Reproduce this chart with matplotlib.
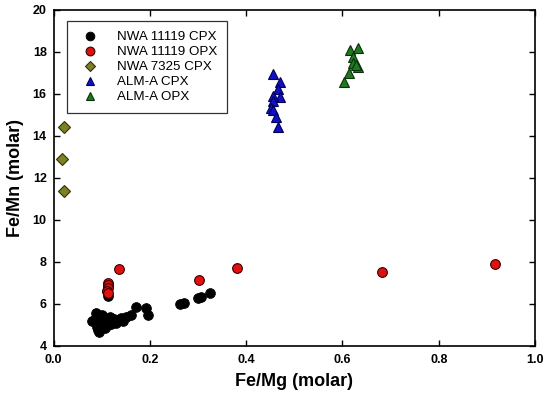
import matplotlib
matplotlib.use("Agg")
import matplotlib.pyplot as plt

plt.rcParams["font.family"] = ["Liberation Sans", "DejaVu Sans"]

# NWA 11119 CPX (black circles)
cpx_11119_x = [0.085, 0.09, 0.09, 0.092, 0.095, 0.095, 0.098, 0.10, 0.10, 0.102,
               0.105, 0.11, 0.112, 0.115, 0.118, 0.12, 0.125, 0.13, 0.135, 0.14,
               0.145, 0.15, 0.16, 0.08, 0.088, 0.093, 0.107, 0.112, 0.11, 0.113,
               0.172, 0.192, 0.197, 0.263, 0.27, 0.30, 0.307, 0.325]
cpx_11119_y = [5.3, 5.1, 4.9, 4.75, 4.65, 5.0, 5.3, 5.45, 5.2, 4.95,
               5.1, 5.35, 5.0, 5.2, 5.4, 5.05, 5.3, 5.1, 5.25, 5.35,
               5.2, 5.4, 5.45, 5.2, 5.55, 5.35, 4.85, 6.4, 6.6, 6.85,
               5.87, 5.82, 5.48, 6.0, 6.06, 6.27, 6.35, 6.5]

# NWA 11119 OPX (red circles)
opx_11119_x = [0.136, 0.113, 0.112, 0.114, 0.111, 0.113, 0.302, 0.38, 0.683, 0.917]
opx_11119_y = [7.65, 7.0, 6.9, 6.75, 6.6, 6.5, 7.14, 7.73, 7.51, 7.89]

# NWA 7325 CPX (olive diamonds)
cpx_7325_x = [0.021, 0.017, 0.021]
cpx_7325_y = [14.43, 12.9, 11.38]

# ALM-A CPX (blue triangles)
alm_cpx_x = [0.455, 0.47, 0.466, 0.47, 0.455, 0.455, 0.451, 0.456, 0.463, 0.466]
alm_cpx_y = [16.95, 16.59, 16.22, 15.87, 15.9, 15.68, 15.32, 15.24, 14.92, 14.44]

# ALM-A OPX (green triangles)
alm_opx_x = [0.616, 0.633, 0.622, 0.622, 0.633, 0.628, 0.614, 0.604]
alm_opx_y = [18.1, 18.18, 17.78, 17.49, 17.3, 17.38, 16.99, 16.59]

fig = plt.figure(figsize=(5.47, 3.99), dpi=100, facecolor="white")
ax = fig.add_axes([0.098, 0.133, 0.88, 0.842])

ms = 7
ax.plot(cpx_11119_x, cpx_11119_y, "o", color="black", mec="black", ms=ms,
        mew=0.6, label="NWA 11119 CPX")
ax.plot(opx_11119_x, opx_11119_y, "o", color="#e01010", mec="#3a0000", ms=ms,
        mew=0.8, label="NWA 11119 OPX")
ax.plot(cpx_7325_x, cpx_7325_y, "D", color="#808020", mec="#303010", ms=6,
        mew=0.8, label="NWA 7325 CPX")
ax.plot(alm_cpx_x, alm_cpx_y, "^", color="#1010c8", mec="#000050", ms=ms,
        mew=0.8, label="ALM-A CPX")
ax.plot(alm_opx_x, alm_opx_y, "^", color="#1f7a1f", mec="#0a300a", ms=ms,
        mew=0.8, label="ALM-A OPX")

ax.set_xlim(0, 1.0)
ax.set_ylim(4, 20)
ax.set_xticks([0.0, 0.2, 0.4, 0.6, 0.8, 1.0])
ax.set_yticks([4, 6, 8, 10, 12, 14, 16, 18, 20])

ax.set_xlabel("Fe/Mg (molar)", fontsize=13, fontweight="bold", labelpad=5)
ax.set_ylabel("Fe/Mn (molar)", fontsize=13, fontweight="bold", labelpad=6)

ax.tick_params(axis="both", direction="in", length=4, width=1,
               top=True, right=True, labelsize=9)
ax.tick_params(axis="x", pad=6)
ax.tick_params(axis="y", pad=5)
for lab in ax.get_xticklabels() + ax.get_yticklabels():
    lab.set_fontweight("bold")
for sp in ax.spines.values():
    sp.set_linewidth(1.2)

leg = ax.legend(loc="upper left", bbox_to_anchor=(0.028, 0.967), fontsize=9.6,
                frameon=True, fancybox=False, edgecolor="black",
                labelspacing=0.2, handletextpad=1.0, borderpad=0.75,
                handlelength=2.0, borderaxespad=0, markerscale=0.9)
leg.get_frame().set_linewidth(0.9)

fig.savefig("out.png", dpi=100, facecolor="white")
